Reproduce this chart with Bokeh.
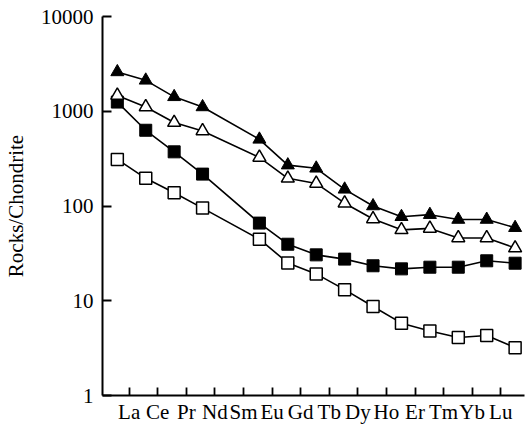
from bokeh.plotting import figure
from bokeh.models import Range1d, FixedTicker
from bokeh.embed import file_html
from bokeh.resources import INLINE

# Element sequence (Pm is a gap in the data positions)
sequence = ["La", "Ce", "Pr", "Nd", "Pm", "Sm", "Eu", "Gd", "Tb", "Dy", "Ho", "Er", "Tm", "Yb", "Lu"]
elements = ["La", "Ce", "Pr", "Nd", "Sm", "Eu", "Gd", "Tb", "Dy", "Ho", "Er", "Tm", "Yb", "Lu"]

filled_tri = [2600, 2120, 1420, 1110, 505, 270, 250, 150, 100, 77, 81, 72, 72, 59]
open_tri = [1470, 1110, 760, 620, 326, 196, 173, 107, 73, 56, 58, 46, 46, 36]
filled_sq = [1250, 630, 373, 217, 66, 39.5, 30.5, 27.5, 23.4, 21.7, 22.6, 22.6, 26.4, 24.9]
open_sq = [310, 196, 138, 95, 44.6, 25.1, 19.2, 13.1, 8.7, 5.8, 4.8, 4.1, 4.3, 3.2]

y_ticks = [1, 10, 100, 1000, 10000]

xs = [sequence.index(e) for e in elements]

FONT = "Liberation Serif"
FS = "21px"

p = figure(width=525, height=426, y_axis_type="log",
           x_range=Range1d(-0.522, 14.33), y_range=Range1d(1, 10000),
           output_backend="svg", toolbar_location=None,
           min_border_left=97, min_border_top=16, min_border_bottom=30, min_border_right=1)
p.outline_line_color = None
p.xgrid.visible = False
p.ygrid.visible = False
p.background_fill_color = "white"
p.border_fill_color = "white"

lw = 1.6
# open squares
p.line(xs, open_sq, line_color="black", line_width=lw)
p.scatter(xs, open_sq, marker="square", size=12, fill_color="white", line_color="black", line_width=1.5)
# filled squares
p.line(xs, filled_sq, line_color="black", line_width=lw)
p.scatter(xs, filled_sq, marker="square", size=12, fill_color="black", line_color="black", line_width=1)
# open triangles
p.line(xs, open_tri, line_color="black", line_width=lw)
p.scatter(xs, open_tri, marker="triangle", size=13, fill_color="white", line_color="black", line_width=1.5)
# filled triangles
p.line(xs, filled_tri, line_color="black", line_width=lw)
p.scatter(xs, filled_tri, marker="triangle", size=13, fill_color="black", line_color="black", line_width=1)

# x axis: category labels on their own evenly spaced ticks
tick_pos = [round(0.417 + i * 1.006, 4) for i in range(len(elements))]
p.xaxis.ticker = FixedTicker(ticks=tick_pos)
p.xaxis.major_label_overrides = {t: e for t, e in zip(tick_pos, elements)}
p.xaxis.minor_tick_line_color = None
p.xaxis.major_tick_in = 8
p.xaxis.major_tick_out = 0
p.xaxis.major_label_standoff = 4
p.xaxis.axis_label_standoff = 0
p.xaxis.major_label_text_line_height = 1.0

p.yaxis.ticker = FixedTicker(ticks=y_ticks)
p.yaxis.major_label_overrides = {t: str(t) for t in y_ticks}
p.yaxis.minor_tick_line_color = None
p.yaxis.major_tick_in = 9
p.yaxis.major_tick_out = 0
p.yaxis.major_label_standoff = 9
p.yaxis.axis_label = "Rocks/Chondrite"
p.yaxis.axis_label_text_font = FONT
p.yaxis.axis_label_text_font_style = "normal"
p.yaxis.axis_label_text_font_size = FS
p.yaxis.axis_label_text_color = "black"
p.yaxis.axis_label_standoff = 10
p.yaxis.axis_label_text_line_height = 1.0

for ax in (p.xaxis, p.yaxis):
    ax.axis_line_color = "black"
    ax.axis_line_width = 2
    ax.major_tick_line_color = "black"
    ax.major_tick_line_width = 1.8
    ax.major_label_text_font = FONT
    ax.major_label_text_font_size = FS
    ax.major_label_text_color = "black"

open("out.html", "w").write(file_html(p, INLINE))
